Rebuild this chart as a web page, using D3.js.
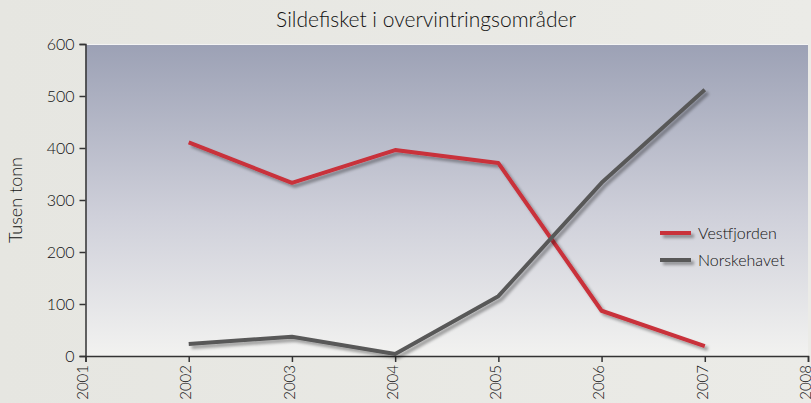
<!DOCTYPE html>
<html>
<head>
<meta charset="utf-8">
<script src="https://cdn.jsdelivr.net/npm/d3@7"></script>
<style>
  html, body { margin: 0; padding: 0; }
  body { width: 811px; height: 403px; overflow: hidden; }
  svg text { font-family: Lato, "Open Sans", sans-serif; font-weight: 300; fill: #111; }
</style>
</head>
<body>
<svg id="chart" width="811" height="403"></svg>
<script>
const years = [2002, 2003, 2004, 2005, 2006, 2007];
const vestfjorden = [411, 333, 396, 371, 87, 19];
const norskehavet = [23, 37, 4, 115, 333, 512];
const seriesNames = ["Vestfjorden", "Norskehavet"];
const seriesColors = ["#c9303a", "#595959"];
const yTicks = [0, 100, 200, 300, 400, 500, 600];
const xTicks = [2001, 2002, 2003, 2004, 2005, 2006, 2007, 2008];

const margin = { top: 44, right: 3, bottom: 47, left: 85.5 };
const W = 811, H = 403;
const width = W - margin.left - margin.right;
const height = H - margin.top - margin.bottom;

const svg = d3.select("#chart");
const defs = svg.append("defs");

// page background
const bg = defs.append("linearGradient").attr("id", "bg")
  .attr("x1", 0).attr("y1", 0).attr("x2", 1).attr("y2", 0);
bg.append("stop").attr("offset", "0%").attr("stop-color", "#e6e6e1");
bg.append("stop").attr("offset", "100%").attr("stop-color", "#ebebe7");
svg.append("rect").attr("width", W).attr("height", H).attr("fill", "url(#bg)");

// plot area gradient
const pg = defs.append("linearGradient").attr("id", "plotbg")
  .attr("x1", 0).attr("y1", 0).attr("x2", 0).attr("y2", 1);
pg.append("stop").attr("offset", "0%").attr("stop-color", "#9ca1b5");
pg.append("stop").attr("offset", "55%").attr("stop-color", "#cfd0da");
pg.append("stop").attr("offset", "100%").attr("stop-color", "#f2f2f0");

// drop shadow, in user space so flat legend lines keep it too
const shadow = defs.append("filter").attr("id", "shadow")
  .attr("filterUnits", "userSpaceOnUse")
  .attr("x", -100).attr("y", -100).attr("width", 1100).attr("height", 600);
shadow.append("feGaussianBlur").attr("in", "SourceAlpha").attr("stdDeviation", 1.6).attr("result", "b");
shadow.append("feOffset").attr("in", "b").attr("dx", 2.5).attr("dy", 3).attr("result", "o");
shadow.append("feComponentTransfer").attr("in", "o").attr("result", "s")
  .append("feFuncA").attr("type", "linear").attr("slope", 0.35);
const merge = shadow.append("feMerge");
merge.append("feMergeNode").attr("in", "s");
merge.append("feMergeNode").attr("in", "SourceGraphic");

const g = svg.append("g").attr("transform", `translate(${margin.left},${margin.top})`);

g.append("rect").attr("width", width).attr("height", height).attr("fill", "url(#plotbg)");
g.append("line").attr("x1", 0).attr("x2", width).attr("y1", 0.5).attr("y2", 0.5)
  .attr("stroke", "#f4f4f4").attr("stroke-width", 1);

const x = d3.scaleLinear().domain([2001, 2008]).range([0, width]);
const y = d3.scaleLinear().domain([0, 600]).range([height, 0]);

// y axis
const yAxis = g.append("g")
  .call(d3.axisLeft(y).tickValues(yTicks).tickSize(6).tickPadding(5).tickFormat(d3.format("d")));
yAxis.select(".domain").attr("stroke", "#333").attr("stroke-width", 1.5);
yAxis.selectAll(".tick line").attr("stroke", "#333").attr("stroke-width", 1.5);
yAxis.selectAll("text").style("font-size", "16px").attr("fill", "#111");

// x axis
const xAxis = g.append("g").attr("transform", `translate(0,${height})`)
  .call(d3.axisBottom(x).tickValues(xTicks).tickSize(6).tickFormat(d3.format("d")));
xAxis.select(".domain").attr("stroke", "#333").attr("stroke-width", 1.5);
xAxis.selectAll(".tick line").attr("stroke", "#333").attr("stroke-width", 1.5);
xAxis.selectAll("text")
  .style("font-size", "15px").attr("fill", "#111")
  .style("text-anchor", "end")
  .attr("dx", "-0.6em").attr("dy", "-0.45em")
  .attr("transform", "rotate(-90)");

// lines
const line = d3.line().x((d, i) => x(years[i])).y(d => y(d));
[vestfjorden, norskehavet].forEach((vals, k) => {
  g.append("path")
    .datum(vals)
    .attr("d", line)
    .attr("fill", "none")
    .attr("stroke", seriesColors[k])
    .attr("stroke-width", 4)
    .attr("stroke-linejoin", "round")
    .attr("filter", "url(#shadow)");
});

// legend
const legend = svg.append("g").attr("transform", "translate(660,233)");
seriesNames.forEach((name, k) => {
  const row = legend.append("g").attr("transform", `translate(0,${k * 27})`);
  row.append("line").attr("x1", 0).attr("x2", 31).attr("y1", 0).attr("y2", 0)
    .attr("stroke", seriesColors[k]).attr("stroke-width", 4).attr("filter", "url(#shadow)");
  row.append("text").attr("x", 38).attr("y", 0).attr("dy", "0.35em")
    .style("font-size", "16px").text(name);
});

// title
svg.append("text").attr("x", 426).attr("y", 27)
  .attr("text-anchor", "middle").style("font-size", "21px")
  .text("Sildefisket i overvintringsområder");

// y label
svg.append("text")
  .attr("transform", `translate(22,${margin.top + height / 2}) rotate(-90)`)
  .attr("text-anchor", "middle").style("font-size", "18px")
  .text("Tusen tonn");
</script>
</body>
</html>
